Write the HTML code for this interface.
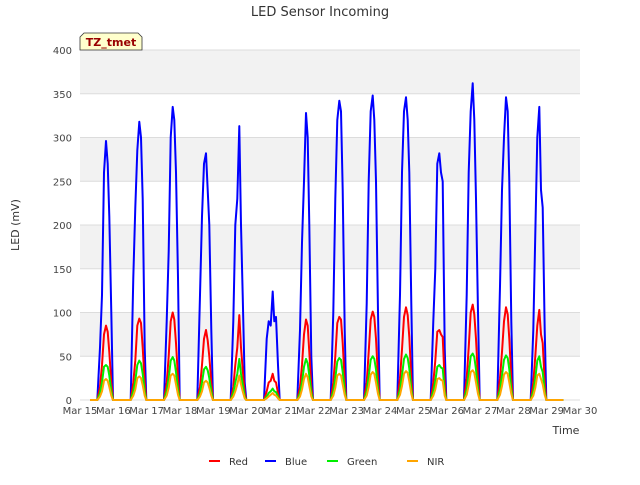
<!DOCTYPE html>
<html><head><meta charset="utf-8"><style>
body{margin:0;background:#fff;font-family:"Liberation Sans","DejaVu Sans",sans-serif}
svg text{font-family:"DejaVu Sans","Liberation Sans",sans-serif}
</style></head><body>
<svg id="chart" width="640" height="480" xmlns="http://www.w3.org/2000/svg">
<rect width="640" height="480" fill="#fff"/>
<g id="bands"></g><g id="grid"></g>
<text x="320" y="16" text-anchor="middle" font-size="13" fill="#333">LED Sensor Incoming</text>
<text transform="translate(19,225) rotate(-90)" text-anchor="middle" font-size="11" fill="#333">LED (mV)</text>
<text x="566" y="434" text-anchor="middle" font-size="11" fill="#333">Time</text>
<g id="axes"></g><g id="series"></g>
<g>
<path d="M80,50 L80,37 L84,33 L138,33 L142,37 L142,50 Z" fill="#ffffcc" stroke="#333" stroke-width="0.8"/>
<text x="111" y="46" text-anchor="middle" font-size="11" font-weight="bold" fill="#990000">TZ_tmet</text>
</g>
<g id="legend"></g>
</svg>
<script>
const days=[15,16,17,18,19,20,21,22,23,24,25,26,27,28];
const offsets=[0.52,0.6,0.66,0.72,0.78,0.83,0.88,0.94,0.99];
const blueVals=[[0,60,120,260,296,270,210,100,0],[0,140,220,285,318,300,230,60,0],[0,90,170,300,335,320,260,140,0],[0,120,210,270,282,240,200,80,0],[0,90,200,230,313,200,120,20,0],[0,70,90,85,124,90,95,40,0],[0,80,180,250,328,300,200,50,0],[0,100,230,320,342,330,240,80,0],[0,110,250,330,348,320,250,100,0],[0,120,260,330,346,320,260,110,0],[0,90,150,270,282,260,250,60,0],[0,120,260,330,362,320,230,100,0],[0,130,240,300,346,330,250,90,0],[0,80,190,300,335,240,220,80,0]];
const redVals=[[0,15,40,75,85,78,55,20,0],[0,20,45,85,93,88,60,20,0],[0,20,50,90,100,92,65,25,0],[0,15,40,70,80,68,50,20,0],[0,15,40,60,97,60,35,8,0],[0,10,20,22,30,22,20,8,0],[0,15,40,75,92,85,55,15,0],[0,20,50,88,95,92,65,22,0],[0,20,55,92,101,95,70,25,0],[0,25,58,95,106,97,72,25,0],[0,20,45,78,80,75,72,20,0],[0,25,60,100,109,98,70,25,0],[0,25,55,90,106,98,70,25,0],[0,20,50,85,103,75,65,20,0]];
const greenVals=[[0,8,20,38,40,38,28,10,0],[0,10,22,40,45,42,30,10,0],[0,10,25,45,49,45,32,12,0],[0,8,20,35,38,34,25,10,0],[0,8,20,30,47,30,18,4,0],[0,4,8,10,13,10,9,4,0],[0,8,20,38,47,42,28,8,0],[0,10,25,44,48,46,32,11,0],[0,10,27,46,50,47,35,12,0],[0,12,28,47,52,48,36,12,0],[0,10,22,38,40,37,36,10,0],[0,12,30,50,53,49,35,12,0],[0,12,28,46,51,48,35,12,0],[0,10,25,45,50,38,32,10,0]];
const nirVals=[[0,4,10,22,24,22,15,5,0],[0,5,12,25,27,25,17,5,0],[0,5,14,28,30,28,18,6,0],[0,4,10,20,22,20,14,5,0],[0,4,10,18,28,18,10,2,0],[0,2,4,6,8,6,5,2,0],[0,4,12,24,30,26,16,4,0],[0,5,14,28,30,28,18,6,0],[0,5,15,29,32,30,20,7,0],[0,6,16,30,33,31,21,7,0],[0,5,12,24,25,23,22,5,0],[0,6,17,32,34,31,20,7,0],[0,6,16,29,32,30,20,7,0],[0,5,14,28,30,24,18,6,0]];
const yTicks=[0,50,100,150,200,250,300,350,400];
const xTickDays=[15,16,17,18,19,20,21,22,23,24,25,26,27,28,29,30];
const xTickLabels=["Mar 15","Mar 16","Mar 17","Mar 18","Mar 19","Mar 20","Mar 21","Mar 22","Mar 23","Mar 24","Mar 25","Mar 26","Mar 27","Mar 28","Mar 29","Mar 30"];
const seriesStart=15.3, seriesEnd=29.5;

const L=80,R=580,T=50,B=400;
const xS=d=>L+(d-15)/(30-15)*(R-L);
const yS=v=>B-v/400*(B-T);
const NS="http://www.w3.org/2000/svg";
function mk(tag,attrs,parent){const e=document.createElementNS(NS,tag);for(const k in attrs)e.setAttribute(k,attrs[k]);parent.appendChild(e);return e;}
const bands=document.getElementById('bands'),grid=document.getElementById('grid'),axes=document.getElementById('axes');
mk('rect',{x:L,y:T,width:R-L,height:B-T,fill:'#fff'},bands);
for(let i=0;i<yTicks.length-1;i++){
  if(i%2===1){const r=mk('rect',{x:L,y:yS(yTicks[i+1]),width:R-L,height:yS(yTicks[i])-yS(yTicks[i+1]),fill:'#f2f2f2'},bands);
  
  }
}
yTicks.forEach(v=>{
  const g=mk('line',{x1:L,x2:R,y1:yS(v),y2:yS(v),stroke:'#dcdcdc','stroke-width':1},grid);
  
  
  const t=mk('text',{x:L-8,y:yS(v)+4,'text-anchor':'end','font-size':10,fill:'#444'},axes);
  t.textContent=v;
  
  
});
xTickDays.forEach((d,i)=>{
  const t=mk('text',{x:xS(d),y:B+14,'text-anchor':'middle','font-size':10,fill:'#444'},axes);
  t.textContent=xTickLabels[i];
  
  
});
const ser=document.getElementById('series');
function draw(vals,color,name){
  let pts=[[seriesStart,0]];
  days.forEach((d,i)=>offsets.forEach((o,j)=>pts.push([d+o,vals[i][j]])));
  pts.push([seriesEnd,0]);
  const p=mk('polyline',{points:pts.map(q=>xS(q[0]).toFixed(1)+','+yS(q[1]).toFixed(1)).join(' '),fill:'none',stroke:color,'stroke-width':2,'stroke-linejoin':'round'},ser);
  
  
}
draw(blueVals,'#0000ff','blue-series');
draw(redVals,'#ff0000','red-series');
draw(greenVals,'#00ee00','green-series');
draw(nirVals,'#ffa500','nir-series');
const leg=document.getElementById('legend');
[['Red','#ff0000',209],['Blue','#0000ff',265],['Green','#00ee00',327],['NIR','#ffa500',407]].forEach(e=>{
  const g=mk('g',{},leg);
  
  
  mk('line',{x1:e[2],x2:e[2]+11,y1:461,y2:461,stroke:e[1],'stroke-width':2},g);
  const t=mk('text',{x:e[2]+20,y:465,'font-size':10,fill:'#333'},g);
  t.textContent=e[0];
});
</script>
</body></html>
